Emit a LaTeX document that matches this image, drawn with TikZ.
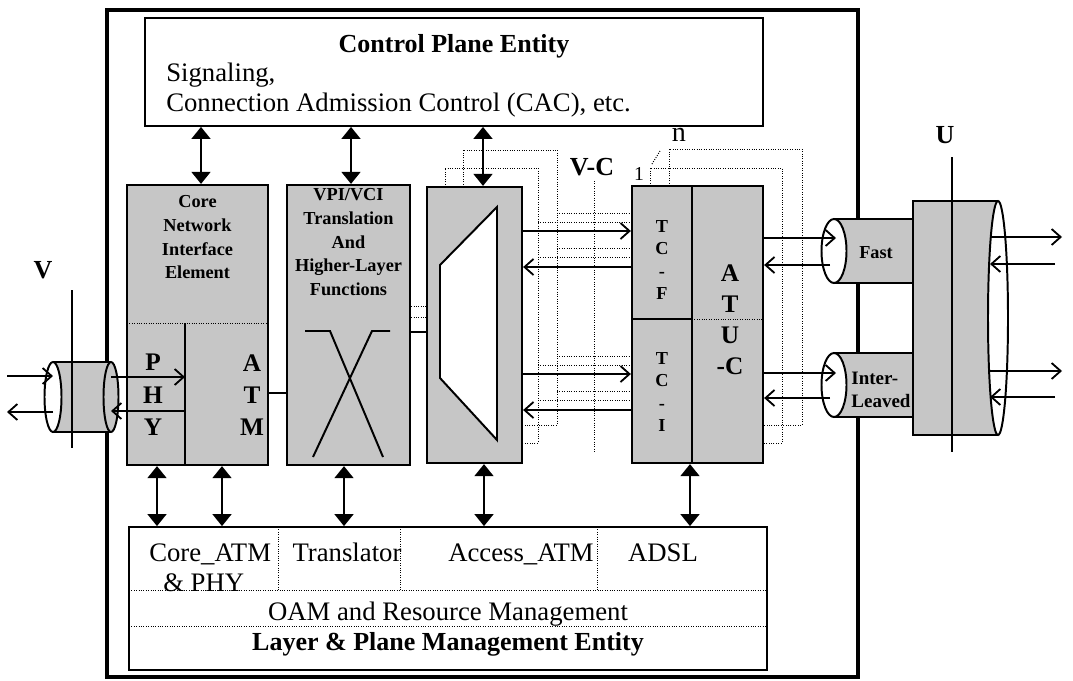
\documentclass[tikz,border=0pt]{standalone}
\usepackage{fontspec}
\setmainfont{Liberation Serif}
\usetikzlibrary{arrows.meta,positioning}
\definecolor{blockgray}{HTML}{C6C6C6}
\newlength\pxu
\setlength\pxu{0.025cm}

\begin{document}
\begin{tikzpicture}[
  x=0.025cm, y=-0.025cm,
  font=\fontsize{19}{21}\selectfont,
  frameline/.style={draw, line width=2.2pt},
  box/.style={draw, line width=1.3pt, fill=white, inner sep=0pt},
  block/.style={draw, line width=1.6pt, fill=blockgray, inner sep=0pt},
  txt/.style={inner sep=0pt},
  heading/.style={inner sep=0pt, font=\fontsize{18.5}{21}\selectfont\bfseries},
  blocktext/.style={inner sep=0pt, align=center, font=\fontsize{13}{17}\selectfont\bfseries},
  bigletters/.style={inner sep=0pt, align=center, font=\fontsize{18}{23}\selectfont\bfseries},
  smallletters/.style={inner sep=0pt, align=center, font=\fontsize{13}{16}\selectfont\bfseries},
  biarrow/.style={<->, >={Triangle[width=0.475cm,length=0.3cm]}, line width=1.1pt},
  flow/.style={->, >={Straight Barb[length=0.225cm,width=0.4cm,line width=1.3pt]}, line width=1.1pt},
  ghost/.style={densely dotted, line width=0.7pt},
  wire/.style={line width=1.1pt},
  edge/.style={line width=1.4pt}
]
\useasboundingbox (0,0) rectangle (1073,680);

% access node frame
\draw[frameline] (107,10) rectangle (858,677);

% control plane
\node[box, minimum width=618\pxu, minimum height=108\pxu] (ctrl) at (454,72) {};
\node[heading, below=17\pxu of ctrl.north] (ctrltitle) {Control Plane Entity};
\node[txt, anchor=west, align=left] (ctrlfunc) at (166,90)
  {Signaling,\\Connection Admission Control (CAC), etc.};

% functional blocks
\node[block, minimum width=141\pxu, minimum height=280\pxu] (core) at (197.5,325) {};
\node[block, minimum width=123\pxu, minimum height=280\pxu] (vpi) at (348.5,325) {};
\node[block, minimum width=95\pxu, minimum height=276\pxu] (mux) at (474.5,325) {};
\node[block, minimum width=131\pxu, minimum height=277\pxu] (atu) at (697.5,324.5) {};

\node[blocktext, below=11\pxu of core.north] (coretitle) {Core\\Network\\Interface\\Element};
\node[blocktext, below=4\pxu of vpi.north] (vpititle) {VPI/VCI\\Translation\\And\\Higher-Layer\\Functions};

% core block inside
\draw[ghost] (127,323) -- (268,323);
\draw[edge] (185,323) -- (185,465);
\node[bigletters] (phy) at (153,395) {P\\H\\Y};
\node[bigletters] (atm) at (252,395) {A\\T\\M};

% cross connect
\draw[edge] (305,331) -- (330,331) -- (383,457);
\draw[edge] (390,331) -- (372,331) -- (313,457);

% multiplexer
\draw[edge, fill=white] (497,207) -- (440,265) -- (440,378) -- (497,440) -- cycle;

% ATU-C inside
\draw[edge] (692,186) -- (692,463);
\draw[edge] (632,319) -- (692,319);
\draw[ghost] (692,319) -- (763,319);
\node[smallletters] (tcf) at (662,260) {T\\C\\-\\F};
\node[smallletters] (tci) at (662,392) {T\\C\\-\\I};
\node[bigletters, font=\fontsize{18}{22}\selectfont\bfseries] (atuc) at (730,320) {A\\T\\U\\-C};

% stacked copies 1..n
\draw[ghost] (445,187) -- (445,168) -- (538,168) -- (538,443) -- (522,443);
\draw[ghost] (463,187) -- (463,150) -- (557,150) -- (557,425) -- (522,425);
\draw[ghost] (650,186) -- (650,168) -- (782,168) -- (782,443) -- (763,443);
\draw[ghost] (669,186) -- (669,149) -- (802,149) -- (802,425) -- (763,425);
\draw[ghost] (557,213) -- (632,213);
\draw[ghost] (538,222) -- (632,222);
\draw[ghost] (557,248) -- (632,248);
\draw[ghost] (538,257) -- (632,257);
\draw[ghost] (557,356) -- (632,356);
\draw[ghost] (538,365) -- (632,365);
\draw[ghost] (557,391) -- (632,391);
\draw[ghost] (538,400) -- (632,400);
\node[txt, font=\fontsize{14}{16}\selectfont] (first) at (639,174) {1};
\node[txt, font=\fontsize{20}{22}\selectfont] (last) at (679,135) {n};
\draw[ghost] (652,164) -- (660,151);

% V-C reference point
\node[heading] (vc) at (592,167) {V-C};
\draw[ghost] ([xshift=2\pxu,yshift=-5\pxu]vc.south) -- ++(0,272);

% links between blocks
\draw[wire] ([yshift=-68\pxu]core.east) -- ([yshift=-68\pxu]vpi.west);
\draw[wire] ([yshift=-7\pxu]vpi.east) -- ([yshift=-7\pxu]mux.west);
\draw[ghost] ([yshift=19\pxu]vpi.east) -- ([yshift=19\pxu]mux.west);
\draw[ghost] ([yshift=8\pxu]vpi.east) -- ([yshift=8\pxu]mux.west);

\coordinate (fastdn) at ([yshift=94\pxu]mux.east);
\coordinate (fastup) at ([yshift=58\pxu]mux.east);
\coordinate (interdn) at ([yshift=-49\pxu]mux.east);
\coordinate (interup) at ([yshift=-85\pxu]mux.east);
\draw[flow] (fastdn) -- (fastdn -| atu.west);
\draw[flow] (fastup -| atu.west) -- (fastup);
\draw[flow] (interdn) -- (interdn -| atu.west);
\draw[flow] (interup -| atu.west) -- (interup);

% management plane
\node[box, minimum width=638\pxu, minimum height=143\pxu] (mgmt) at (448,598.5) {};
\draw[ghost] (278,527) -- (278,590);
\draw[ghost] (400,527) -- (400,590);
\draw[ghost] (597,527) -- (597,590);
\draw[ghost] (129,590) -- (767,590);
\draw[ghost] (129,626) -- (767,626);
\node[txt, anchor=base west] (coreatm) at (149,561) {Core\_ATM};
\node[txt, anchor=base west] (corephytxt) at (163,591) {\& PHY};
\node[txt, anchor=base] (translator) at (347,561) {Translator};
\node[txt, anchor=base] (accessatm) at (521,561) {Access\_ATM};
\node[txt, anchor=base] (adsl) at (663,561) {ADSL};
\node[txt, anchor=base] (oam) at (448,620) {OAM and Resource Management};
\node[heading, anchor=base] (lpme) at (448,650) {Layer \& Plane Management Entity};

% control and management arrows
\coordinate (coretop) at ([xshift=3.5\pxu]core.north);
\coordinate (vpitop) at ([xshift=2.5\pxu]vpi.north);
\coordinate (muxtop) at ([xshift=8.5\pxu]mux.north);
\coordinate (corephy) at ([xshift=-40.5\pxu]core.south);
\coordinate (coreatmb) at ([xshift=24.5\pxu]core.south);
\coordinate (vpibot) at ([xshift=-4.5\pxu]vpi.south);
\coordinate (muxbot) at ([xshift=9.5\pxu]mux.south);
\coordinate (atubot) at ([xshift=-7.5\pxu]atu.south);
\draw[biarrow] (coretop) -- (coretop |- ctrl.south);
\draw[biarrow] (vpitop) -- (vpitop |- ctrl.south);
\draw[biarrow] (muxtop) -- (muxtop |- ctrl.south);
\draw[biarrow] (corephy) -- (corephy |- mgmt.north);
\draw[biarrow] (coreatmb) -- (coreatmb |- mgmt.north);
\draw[biarrow] (vpibot) -- (vpibot |- mgmt.north);
\draw[biarrow] (muxbot) -- (muxbot |- mgmt.north);
\draw[biarrow] (atubot) -- (atubot |- mgmt.north);

% V interface
\fill[blockgray] (53,362) rectangle (111,432);
\draw[edge] (53,362) -- (111,362) (53,432) -- (111,432);
\draw[edge, fill=blockgray] (111,397) ellipse [x radius=7.5\pxu, y radius=35\pxu];
\draw[edge, fill=white] (53,397) ellipse [x radius=8.5\pxu, y radius=35\pxu];
\coordinate (vleft) at (53,397);
\coordinate (vright) at (111,397);
\draw[wire] (72,290) -- (72,448);
\node[heading] (vlabel) at (43,270) {V};
\coordinate (vin) at (7,376);
\coordinate (vout) at (7,412);
\coordinate (phyrx) at (185,377);
\coordinate (phytx) at (185,411);
\draw[flow] (vin) -- (vin -| vleft);
\draw[flow] (vout -| vleft) -- (vout);
\draw[flow] (phyrx -| vright) -- (phyrx);
\draw[flow] (phytx) -- (phytx -| vright);

% fast and interleaved paths
\fill[blockgray] (834,219) rectangle (913,283);
\draw[edge] (834,219) -- (913,219) (834,283) -- (913,283);
\draw[edge, fill=white] (834,251) ellipse [x radius=12.5\pxu, y radius=32\pxu];
\node[txt, font=\fontsize{13}{15}\selectfont\bfseries] (fast) at (876,253) {Fast};
\fill[blockgray] (834,353) rectangle (913,417);
\draw[edge] (834,353) -- (913,353) (834,417) -- (913,417);
\draw[edge, fill=white] (834,385) ellipse [x radius=12.5\pxu, y radius=32\pxu];
\node[txt, align=left, font=\fontsize{13.5}{16}\selectfont\bfseries] (inter) at (881,390) {Inter-\\Leaved};

\coordinate (fastrx) at (836,238);
\coordinate (fasttx) at (830,265);
\coordinate (interrx) at (836,373);
\coordinate (intertx) at (830,398);
\draw[flow] (fastrx -| atu.east) -- (fastrx);
\draw[flow] (fasttx) -- (fasttx -| atu.east);
\draw[flow] (interrx -| atu.east) -- (interrx);
\draw[flow] (intertx) -- (intertx -| atu.east);

% U interface
\fill[blockgray] (913,201) rectangle (998,435);
\draw[edge] (998,201) -- (913,201) -- (913,435) -- (998,435);
\draw[edge, fill=white] (998,318) ellipse [x radius=10\pxu, y radius=117\pxu];
\coordinate (uinner) at (990,318);
\draw[line width=1.2pt] (952,157) -- (952,452);
\node[heading] (ulabel) at (945,135) {U};
\coordinate (urxa) at (1062,237);
\coordinate (utxa) at (1055,264);
\coordinate (urxb) at (1062,371);
\coordinate (utxb) at (1055,397);
\draw[flow] (urxa -| uinner) -- (urxa);
\draw[flow] (utxa) -- (utxa -| uinner);
\draw[flow] (urxb -| uinner) -- (urxb);
\draw[flow] (utxb) -- (utxb -| uinner);

\end{tikzpicture}
\end{document}
